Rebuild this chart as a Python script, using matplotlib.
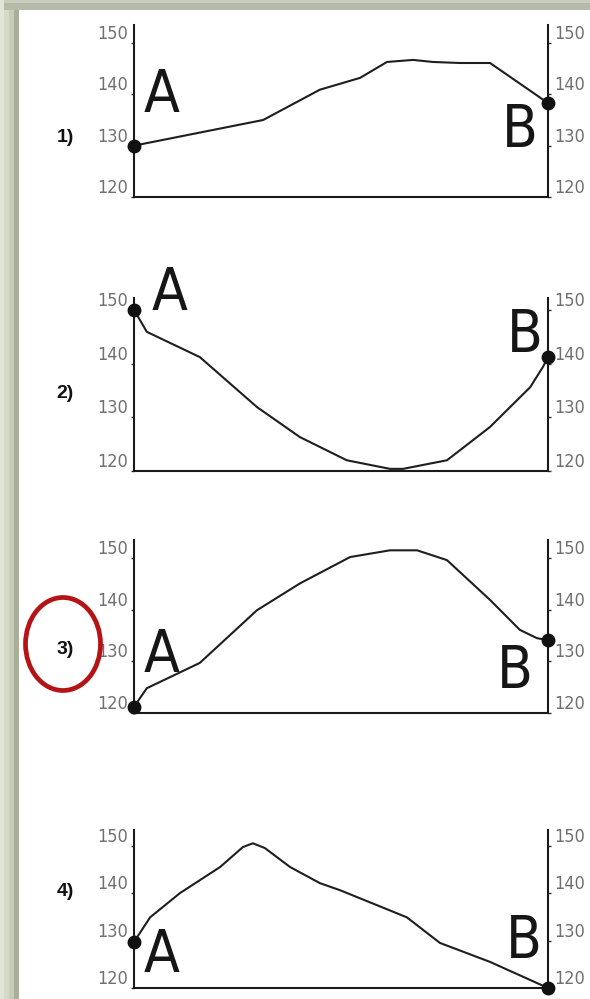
"""Four elevation profiles from A to B, one of them circled."""

import matplotlib

matplotlib.use("Agg")

import matplotlib.pyplot as plt
from matplotlib import font_manager
from matplotlib.patches import Ellipse, Rectangle


FIG_W, FIG_H = 590, 999

# distance along the route (% of A-B) and height for each profile
distance_1 = [0, 31.2, 44.9, 54.6, 61.1, 67.4, 72.2, 78.7, 86.0, 100]
height_1 = [130, 135.0, 140.9, 143.2, 146.3, 146.7, 146.3, 146.1, 146.1, 138.3]

distance_2 = [0, 3.1, 15.9, 29.7, 40.1, 51.4, 61.8, 65.0, 75.6, 86.0, 95.7, 98.8, 100]
height_2 = [150, 145.9, 141.2, 131.9, 126.3, 122.0, 120.4, 120.4, 122.0, 128.2, 135.6, 139.4, 141.2]

distance_3 = [0, 3.1, 15.9, 29.7, 40.1, 52.2, 61.8, 68.4, 75.6, 86.0, 93.2, 97.3, 100]
height_3 = [121.2, 124.8, 129.7, 139.9, 145.1, 150.2, 151.5, 151.5, 149.6, 141.9, 136.1, 134.5, 134.1]

distance_4 = [0, 3.9, 11.1, 20.8, 26.3, 28.7, 31.6, 37.7, 44.9, 49.8, 65.9, 73.9, 86.0, 100]
height_4 = [129.7, 134.9, 140.0, 145.5, 149.7, 150.5, 149.5, 145.5, 142.1, 140.6, 134.9, 129.5, 125.5, 120.0]

panel_labels = ["1)", "2)", "3)", "4)"]
y_ticks = [120, 130, 140, 150]

# pixel layout: (bottom, top) of the axes, upper y limit, A and B label anchors
PANELS = [
    dict(bottom=197, top=25, ymax=153.5, a=(2.2, 136.6), b=(97.6, 129.7), num_y=137),
    dict(bottom=471, top=298, ymax=152.2, a=(4.3, 150.0), b=(98.8, 142.2), num_y=394),
    dict(bottom=713, top=540, ymax=153.5, a=(2.2, 127.9), b=(96.4, 124.8), num_y=650),
    dict(bottom=988, top=830, ymax=153.3, a=(2.2, 123.4), b=(98.6, 126.3), num_y=891),
]
AX_LEFT, AX_RIGHT = 134, 548


def narrow_font():
    """Condensed DejaVu if it is installed, otherwise the Arial-like Liberation."""
    prop = font_manager.FontProperties(family="DejaVu Sans", stretch="condensed")
    try:
        path = font_manager.findfont(prop, fallback_to_default=False)
    except ValueError:
        path = ""
    if "Condensed" in path:
        return dict(family="DejaVu Sans", stretch="condensed")
    return dict(family="Liberation Sans")


NARROW = narrow_font()


def px_box(x0, y0, x1, y1):
    """Pixel box (top-left origin) to figure fraction rect."""
    return (x0 / FIG_W, 1 - y1 / FIG_H), (x1 - x0) / FIG_W, (y1 - y0) / FIG_H


def draw_frame(fig):
    bands = [
        (0, 0, 590, 10, "#b6baa8"),
        (0, 0, 590, 3, "#c9cdbd"),
        (0, 0, 4, 999, "#e0e5d8"),
        (4, 10, 9, 999, "#d5dbca"),
        (9, 10, 14, 999, "#c6ccb7"),
        (14, 10, 19, 999, "#a9ae9b"),
    ]
    for x0, y0, x1, y1, color in bands:
        xy, w, h = px_box(x0, y0, x1, y1)
        fig.patches.append(
            Rectangle(xy, w, h, transform=fig.transFigure, facecolor=color,
                      edgecolor="none", zorder=0)
        )


def draw_profile(fig, panel, distance, height, number):
    left = AX_LEFT / FIG_W
    width = (AX_RIGHT - AX_LEFT) / FIG_W
    bottom = 1 - panel["bottom"] / FIG_H
    h = (panel["bottom"] - panel["top"]) / FIG_H
    ax = fig.add_axes([left, bottom, width, h])
    ax.set_facecolor("none")

    ax.plot(distance, height, color="#1e1e1e", linewidth=1.5, solid_joinstyle="round",
            clip_on=False)
    ax.plot([distance[0], distance[-1]], [height[0], height[-1]], "o",
            color="#111111", markersize=9, clip_on=False, zorder=5)

    ax.set_xlim(0, 100)
    ax.set_ylim(120, panel["ymax"])
    ax.spines["top"].set_visible(False)
    for side in ("left", "right", "bottom"):
        ax.spines[side].set_linewidth(1.5)
        ax.spines[side].set_color("#1a1a1a")

    ax.set_xticks([])
    ax.set_yticks(y_ticks)
    ax.set_yticklabels([str(t) for t in y_ticks])
    ax.tick_params(axis="y", which="both", left=True, right=True, labelleft=True,
                   labelright=True, direction="out", length=2.5, width=1,
                   color="#333333", labelsize=13, labelcolor="#707070", pad=2)
    for tick in ax.yaxis.get_major_ticks():
        for label in (tick.label1, tick.label2):
            label.set_va("bottom")
            label.set_family(NARROW["family"])
            label.set_stretch(NARROW.get("stretch", "normal"))

    ax.text(*panel["a"], "A", fontsize=42, color="#161616", ha="left",
            va="baseline", **NARROW)
    ax.text(*panel["b"], "B", fontsize=42, color="#161616", ha="right",
            va="baseline", **NARROW)

    fig.text(65 / FIG_W, 1 - panel["num_y"] / FIG_H, number, fontsize=14,
             fontweight="bold", color="#111111", ha="center", va="center",
             family=["Liberation Sans", "DejaVu Sans"])


def main():
    fig = plt.figure(figsize=(FIG_W / 100, FIG_H / 100), dpi=100)
    fig.patch.set_facecolor("white")
    draw_frame(fig)

    profiles = [
        (distance_1, height_1),
        (distance_2, height_2),
        (distance_3, height_3),
        (distance_4, height_4),
    ]
    for panel, (distance, height), number in zip(PANELS, profiles, panel_labels):
        draw_profile(fig, panel, distance, height, number)

    # red circle round the answer "3)"
    fig.patches.append(
        Ellipse((63 / FIG_W, 1 - 644 / FIG_H), 75 / FIG_W, 93 / FIG_H,
                transform=fig.transFigure, facecolor="none", edgecolor="#b51416",
                linewidth=3.4, zorder=10)
    )

    fig.savefig("out.png", dpi=100)


if __name__ == "__main__":
    main()
